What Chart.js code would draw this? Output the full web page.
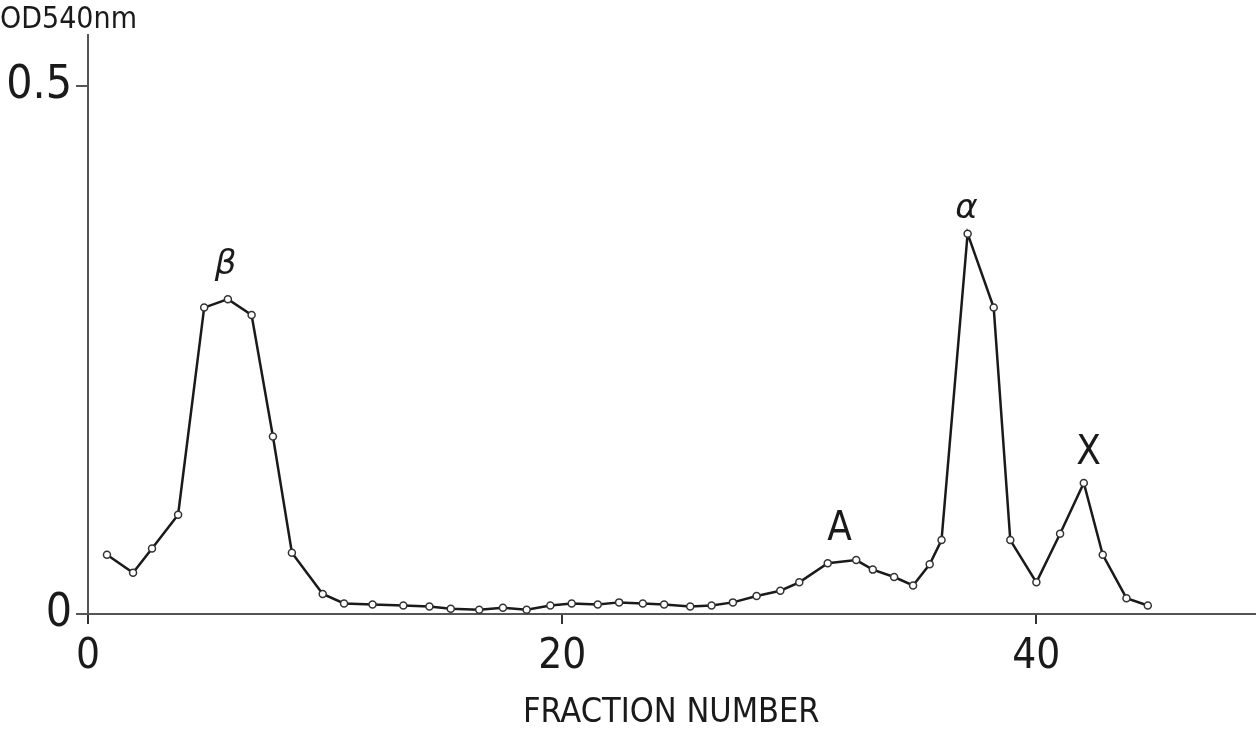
<!DOCTYPE html>
<html>
<head>
<meta charset="utf-8">
<script src="https://cdn.jsdelivr.net/npm/chart.js@4"></script>
<style>
  body { margin: 0; background: #fff; }
  canvas { display: block; }
</style>
</head>
<body>
<canvas id="chart" width="1260" height="742"></canvas>
<script>
// fraction numbers as plotted
const fractions = [0.8, 1.9, 2.7, 3.8, 4.9, 5.9, 6.9, 7.8, 8.6, 9.9, 10.8, 12.0, 13.3, 14.4, 15.3, 16.5,
  17.5, 18.5, 19.5, 20.4, 21.5, 22.4, 23.4, 24.3, 25.4, 26.3, 27.2, 28.2, 29.2, 30.0, 31.2, 32.4,
  33.1, 34.0, 34.8, 35.5, 36.0, 37.1, 38.2, 38.9, 40.0, 41.0, 42.0, 42.8, 43.8, 44.7];
// OD at 540 nm
const od540 = [0.056, 0.039, 0.062, 0.094, 0.290, 0.298, 0.283, 0.168, 0.058, 0.019, 0.010, 0.009,
  0.008, 0.007, 0.005, 0.004, 0.006, 0.004, 0.008, 0.010, 0.009, 0.011, 0.010, 0.009, 0.007, 0.008,
  0.011, 0.017, 0.022, 0.030, 0.048, 0.051, 0.042, 0.035, 0.027, 0.047, 0.070, 0.360, 0.290, 0.070,
  0.030, 0.076, 0.124, 0.056, 0.015, 0.008];

const xTicks = [0, 20, 40];
const yTicks = [0, 0.5];

// peak names
const peakNames = ["β", "α", "A", "X"];
const peakX = [5.8, 37.05, 31.7, 42.2];
const peakY = [0.330, 0.383, 0.080, 0.152];

const narrow = "'Liberation Sans Narrow', 'DejaVu Sans Condensed', 'Liberation Sans', sans-serif";
const ink = "#1a1a1a";

const peakLabels = {
  id: "peakLabels",
  afterDatasetsDraw(chart) {
    const { ctx, scales } = chart;
    ctx.save();
    ctx.fillStyle = ink;
    ctx.textAlign = "center";
    ctx.textBaseline = "middle";
    peakNames.forEach((name, i) => {
      const greek = /[α-ω]/.test(name);
      ctx.font = greek ? "italic 34px 'DejaVu Sans', sans-serif" : "40px " + narrow;
      ctx.fillText(name, scales.x.getPixelForValue(peakX[i]), scales.y.getPixelForValue(peakY[i]));
    });
    ctx.restore();
  },
};

new Chart(document.getElementById("chart"), {
  type: "line",
  data: {
    datasets: [
      {
        label: "OD540nm",
        data: fractions.map((f, i) => ({ x: f, y: od540[i] })),
        borderColor: ink,
        borderWidth: 2.5,
        tension: 0,
        pointRadius: 3.5,
        pointBorderWidth: 1.5,
        pointBorderColor: "#333",
        pointBackgroundColor: "#fff",
      },
    ],
  },
  options: {
    responsive: false,
    animation: false,
    layout: { padding: 0 },
    plugins: {
      legend: { display: false },
      tooltip: { enabled: false },
      title: {
        display: true,
        text: "OD540nm",
        align: "start",
        color: ink,
        font: { family: narrow, size: 30, weight: "normal", lineHeight: 1 },
        padding: { top: 5, bottom: 0 },
      },
    },
    scales: {
      x: {
        type: "linear",
        min: 0,
        max: 49.2,
        afterBuildTicks: (s) => { s.ticks = xTicks.map((v) => ({ value: v })); },
        afterFit: (s) => { s.height = 128; },
        grid: { display: true, drawOnChartArea: false, drawTicks: true, tickLength: 10, color: "#333", lineWidth: 2 },
        border: { display: true, color: "#555", width: 2 },
        ticks: { color: ink, font: { family: narrow, size: 42 }, padding: 8, maxRotation: 0 },
        title: {
          display: true,
          text: "FRACTION NUMBER",
          color: ink,
          font: { family: narrow, size: 34 },
          padding: { top: 10, bottom: 8 },
        },
      },
      y: {
        min: 0,
        max: 0.548,
        afterBuildTicks: (s) => { s.ticks = yTicks.map((v) => ({ value: v })); },
        afterFit: (s) => { s.width = 88; },
        grid: { display: true, drawOnChartArea: false, drawTicks: true, tickLength: 12, color: "#555", lineWidth: 2 },
        border: { display: true, color: "#555", width: 2 },
        ticks: { color: ink, font: { family: narrow, size: 46 }, padding: 4 },
      },
    },
  },
  plugins: [peakLabels],
});
</script>
</body>
</html>
